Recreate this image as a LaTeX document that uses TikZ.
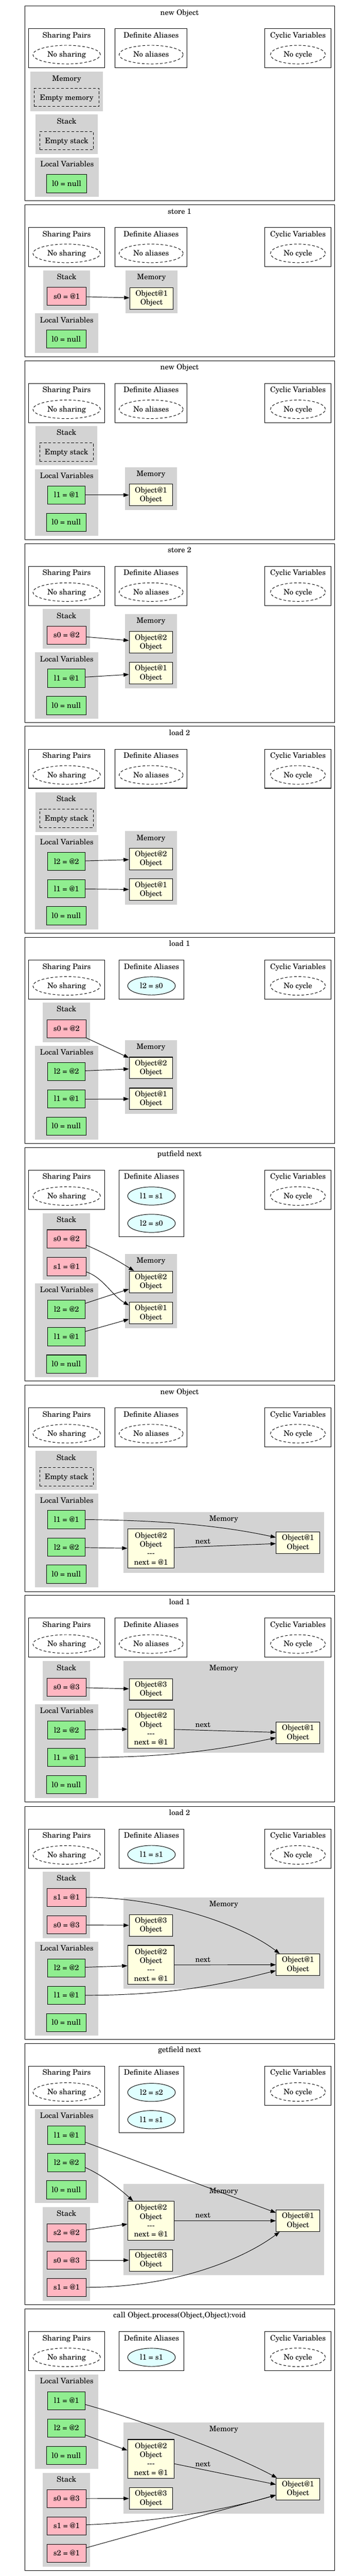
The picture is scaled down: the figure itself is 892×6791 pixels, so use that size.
\documentclass[tikz,border=0pt]{standalone}
\usepackage{fontspec}
\setmainfont{texgyreschola-regular.otf}
\usetikzlibrary{arrows.meta,shapes.geometric,fit,calc}
\definecolor{lgreen}{HTML}{90EE90}
\definecolor{lpink}{HTML}{FFB6C1}
\definecolor{lyellow}{HTML}{FFFFE0}
\definecolor{lcyan}{HTML}{E0FFFF}
\definecolor{lgrey}{HTML}{D3D3D3}
\newcommand\gvfont{\fontsize{19.9pt}{23.5pt}\selectfont}
\tikzset{
 txt/.style={font=\gvfont, inner sep=0pt, text height=13.5pt, text depth=0pt},
 lbl/.style={txt},
 panelbox/.style={draw, line width=1.4pt, inner sep=0pt},
 hbox/.style={draw, line width=1.4pt, inner sep=0pt},
 clus/.style={fill=lgrey, inner sep=0pt},
 noell/.style={txt, ellipse, draw, dash pattern=on 7pt off 5pt, minimum height=49pt, line width=1.3pt},
 alell/.style={txt, ellipse, draw, fill=lcyan, minimum width=126pt, minimum height=48pt, line width=1.3pt},
 lvar/.style={txt, draw, fill=lgreen, minimum height=48pt, minimum width=99pt, line width=1.4pt},
 svar/.style={txt, draw, fill=lpink, minimum height=48pt, minimum width=103pt, line width=1.4pt},
 obj/.style={font=\gvfont, inner sep=0pt, align=center, draw, fill=lyellow, minimum width=115pt, minimum height=57pt, line width=1.4pt},
 fobj/.style={obj, minimum width=123pt, minimum height=103pt},
 emptyb/.style={txt, draw, dash pattern=on 7pt off 5pt, minimum height=48pt, line width=1.3pt},
 edge/.style={-{Triangle[length=14pt,width=10pt]}, line width=1.3pt},
 elabel/.style={txt, above=7pt}
}
\newcommand\mkpanel[4]{%
 \node[panelbox, fit={(66,#2)(884,#3)}] (#1p) {};
 \node[lbl] (#1t) at (474,{#2+17}) {#4};
 \node[hbox, fit={(76,{#2+60})(276,{#2+163})}] (#1sp) {};
 \node[lbl] (#1spl) at (176,{#2+77}) {Sharing Pairs};
 \node[noell, minimum width=178pt] (#1sps) at (176,{#2+128}) {No sharing};
 \node[hbox, fit={(699,{#2+60})(874,{#2+163})}] (#1cv) {};
 \node[lbl] (#1cvl) at (786.5,{#2+77}) {Cyclic Variables};
 \node[noell, minimum width=145pt] (#1cvs) at (786.5,{#2+128}) {No cycle};
}
\newcommand\mknoalias[2]{%
 \node[hbox, fit={(304,{#2+60})(494,{#2+163})}] (#1da) {};
 \node[lbl] (#1dal) at (399,{#2+77}) {Definite Aliases};
 \node[noell, minimum width=169pt] (#1das) at (399,{#2+128}) {No aliases};
}
\newcommand\mkalias[3]{%
 \node[hbox, fit={(315,{#2+60})(485,{#2+#3})}] (#1da) {};
 \node[lbl] (#1dal) at (400,{#2+77}) {Definite Aliases};
}
\newcommand\mkclus[6]{%
 \node[clus, fit={(#2,#3)(#4,#5)}] (#1) {};
 \node[lbl] (#1l) at ({(#2+#4)/2},{#3+17.5}) {#6};
}
\begin{document}
\begin{tikzpicture}[x=1pt,y=-1pt]
\useasboundingbox (0,0) rectangle (892,6791);

% ---------- Panel A: new Object
\mkpanel{A}{16}{529}{new Object}
\mknoalias{A}{16}
\mkclus{Amem}{80}{189}{272}{293}{Memory}
\node[emptyb, minimum width=171pt] (Aem) at (176,257) {Empty memory};
\mkclus{Astk}{94}{302}{258}{406}{Stack}
\node[emptyb, minimum width=141pt] (Aes) at (176,371) {Empty stack};
\mkclus{Aloc}{93}{415}{261}{519}{Local Variables}
\node[lvar, minimum width=105pt] (Al0) at (176,484) {l0 = null};

% ---------- Panel B: store 1
\mkpanel{B}{540}{940}{store 1}
\mknoalias{B}{540}
\mkclus{Bstk}{114}{713}{238}{817}{Stack}
\node[svar] (Bs0) at (176,781) {s0 = @1};
\mkclus{Bmem}{331}{713}{469}{826}{Memory}
\node[obj] (Bo1) at (400,786.5) {Object@1\\Object};
\mkclus{Bloc}{93}{826}{259}{930}{Local Variables}
\node[lvar, minimum width=104pt] (Bl0) at (175,894) {l0 = null};
\draw[edge] (Bs0) -- (Bo1);

% ---------- Panel C: new Object
\mkpanel{C}{951}{1422.5}{new Object}
\mknoalias{C}{951}
\mkclus{Cstk}{94}{1123}{257}{1227}{Stack}
\node[emptyb, minimum width=141pt] (Ces) at (175.5,1192) {Empty stack};
\mkclus{Cloc}{93}{1237}{259}{1412}{Local Variables}
\node[lvar] (Cl1) at (175.5,1305) {l1 = @1};
\node[lvar, minimum width=104pt] (Cl0) at (175,1377) {l0 = null};
\mkclus{Cmem}{330}{1232}{467}{1344}{Memory}
\node[obj] (Co1) at (398.5,1305) {Object@1\\Object};
\draw[edge] (Cl1) -- (Co1);

% ---------- Panel D: store 2
\mkpanel{D}{1433}{1905}{store 2}
\mknoalias{D}{1433}
\mkclus{Dstk}{113}{1606}{238}{1710}{Stack}
\node[svar] (Ds0) at (175.5,1674.5) {s0 = @2};
\mkclus{Dmem}{330}{1619}{467}{1814}{Memory}
\node[obj] (Do2) at (398.5,1693.5) {Object@2\\Object};
\node[obj] (Do1) at (398.5,1774.5) {Object@1\\Object};
\mkclus{Dloc}{93}{1720}{259}{1895}{Local Variables}
\node[lvar] (Dl1) at (175.5,1788) {l1 = @1};
\node[lvar, minimum width=104pt] (Dl0) at (175,1860) {l0 = null};
\draw[edge] (Ds0) -- (Do2);
\draw[edge] (Dl1) -- (Do1);

% ---------- Panel E: load 2
\mkpanel{E}{1915}{2460}{load 2}
\mknoalias{E}{1915}
\mkclus{Estk}{94}{2089}{256}{2193}{Stack}
\node[emptyb, minimum width=141pt] (Ees) at (175.5,2157.5) {Empty stack};
\mkclus{Eloc}{93}{2202}{259}{2450}{Local Variables}
\node[lvar] (El2) at (175.5,2271) {l2 = @2};
\node[lvar] (El1) at (175.5,2343) {l1 = @1};
\node[lvar, minimum width=104pt] (El0) at (175,2414) {l0 = null};
\mkclus{Emem}{330}{2191}{467}{2385}{Memory}
\node[obj] (Eo2) at (398.5,2264.5) {Object@2\\Object};
\node[obj] (Eo1) at (398.5,2345.5) {Object@1\\Object};
\draw[edge] (El2) -- (Eo2);
\draw[edge] (El1) -- (Eo1);

% ---------- Panel F: load 1
\mkpanel{F}{2471}{3015}{load 1}
\mkalias{F}{2471}{163}
\node[alell] (Fa1) at (400,2599) {l2 = s0};
\mkclus{Fstk}{113}{2643}{238}{2747}{Stack}
\node[svar] (Fs0) at (175.5,2712) {s0 = @2};
\mkclus{Fmem}{330}{2742}{467}{2936}{Memory}
\node[obj] (Fo2) at (398.5,2815.5) {Object@2\\Object};
\node[obj] (Fo1) at (398.5,2897) {Object@1\\Object};
\mkclus{Floc}{93}{2757}{259}{3004}{Local Variables}
\node[lvar] (Fl2) at (175.5,2825) {l2 = @2};
\node[lvar] (Fl1) at (175.5,2897) {l1 = @1};
\node[lvar, minimum width=104pt] (Fl0) at (175,2969) {l0 = null};
\draw[edge] (Fs0) -- (Fo2);
\draw[edge] (Fl2) -- (Fo2);
\draw[edge] (Fl1) -- (Fo1);

% ---------- Panel G: putfield next
\mkpanel{G}{3025}{3641}{putfield next}
\mkalias{G}{3025}{235}
\node[alell] (Ga1) at (400,3153) {l1 = s1};
\node[alell] (Ga2) at (400,3225) {l2 = s0};
\mkclus{Gstk}{113}{3198}{238}{3374}{Stack}
\node[svar] (Gs0) at (175.5,3266) {s0 = @2};
\node[svar] (Gs1) at (175.5,3339) {s1 = @1};
\mkclus{Gmem}{330}{3306}{467}{3501}{Memory}
\node[obj] (Go2) at (398.5,3379.5) {Object@2\\Object};
\node[obj] (Go1) at (398.5,3461.5) {Object@1\\Object};
\mkclus{Gloc}{93}{3383}{259}{3631}{Local Variables}
\node[lvar] (Gl2) at (175.5,3452) {l2 = @2};
\node[lvar] (Gl1) at (175.5,3524) {l1 = @1};
\node[lvar, minimum width=104pt] (Gl0) at (175,3596) {l0 = null};
\draw[edge] ([yshift=-16.6pt]Gs0.east) .. controls +(50,21) and +(-40,-25) .. ([xshift=13.6pt]Go2.north west);
\draw[edge] ([yshift=-14pt]Gs1.east) .. controls +(45,15) and +(-45,-26) .. ([yshift=20.5pt]Go1.west);
\draw[edge] (Gl2) -- (Go2);
\draw[edge] (Gl1) -- (Go1);

% ---------- Panel H: new Object
\mkpanel{H}{3651.5}{4196}{new Object}
\mknoalias{H}{3651.5}
\mkclus{Hstk}{94}{3825}{256}{3928}{Stack}
\node[emptyb, minimum width=141pt] (Hes) at (175.5,3893) {Empty stack};
\mkclus{Hloc}{93}{3938}{259}{4185}{Local Variables}
\node[lvar] (Hl1) at (175.5,4006) {l1 = @1};
\node[lvar] (Hl2) at (175.5,4079) {l2 = @2};
\node[lvar, minimum width=104pt] (Hl0) at (175,4150) {l0 = null};
\mkclus{Hmem}{326.5}{3986}{855}{4146}{Memory}
\node[fobj] (Ho2) at (398.5,4082.5) {Object@2\\Object\\-{}-{}-\\next = @1};
\node[obj] (Ho1) at (786.5,4067) {Object@1\\Object};
\draw[edge] (Hl1.east) .. controls +(225,2) and +(-130,-28) .. ([yshift=14pt]Ho1.west);
\draw[edge] (Hl2) -- (Ho2);
\draw[edge] (Ho2) -- node[elabel, pos=0.28] {next} (Ho1);

% ---------- Panel I: load 1
\mkpanel{I}{4206}{4750.5}{load 1}
\mknoalias{I}{4206}
\mkclus{Istk}{113}{4379}{238}{4483}{Stack}
\node[svar] (Is0) at (175.5,4448) {s0 = @3};
\mkclus{Imem}{326.5}{4379}{855}{4621}{Memory}
\node[obj] (Io3) at (398.5,4453.5) {Object@3\\Object};
\node[fobj] (Io2) at (398.5,4557.5) {Object@2\\Object\\-{}-{}-\\next = @1};
\node[obj] (Io1) at (786.5,4568.5) {Object@1\\Object};
\mkclus{Iloc}{93}{4493}{259}{4740}{Local Variables}
\node[lvar] (Il2) at (175.5,4561) {l2 = @2};
\node[lvar] (Il1) at (175.5,4633) {l1 = @1};
\node[lvar, minimum width=104pt] (Il0) at (175,4705) {l0 = null};
\draw[edge] (Is0) -- (Io3);
\draw[edge] (Il2) -- (Io2);
\draw[edge] (Io2) -- node[elabel, pos=0.28] {next} (Io1);
\draw[edge] (Il1.east) .. controls +(250,0) and +(-120,25) .. ([yshift=-12.5pt]Io1.west);

% ---------- Panel J: load 2
\mkpanel{J}{4762}{5376.6}{load 2}
\mkalias{J}{4762}{163}
\node[alell] (Ja1) at (400,4889) {l1 = s1};
\mkclus{Jstk}{113}{4934}{238}{5110}{Stack}
\node[svar] (Js1) at (175.5,5002) {s1 = @1};
\node[svar] (Js0) at (175.5,5074.5) {s0 = @3};
\mkclus{Jmem}{326.5}{5002}{855}{5243}{Memory}
\node[obj] (Jo3) at (398.5,5076) {Object@3\\Object};
\node[fobj] (Jo2) at (398.5,5180) {Object@2\\Object\\-{}-{}-\\next = @1};
\node[obj] (Jo1) at (786.5,5179.5) {Object@1\\Object};
\mkclus{Jloc}{93}{5119}{259}{5366}{Local Variables}
\node[lvar] (Jl2) at (175.5,5188) {l2 = @2};
\node[lvar] (Jl1) at (175.5,5260) {l1 = @1};
\node[lvar, minimum width=104pt] (Jl0) at (175,5332) {l0 = null};
\draw[edge] (Js1.east) .. controls +(203,0) and +(-99,-76) .. ([xshift=10pt]Jo1.north west);
\draw[edge] (Js0) -- (Jo3);
\draw[edge] (Jl2) -- (Jo2);
\draw[edge] (Jo2) -- node[elabel, pos=0.28] {next} (Jo1);
\draw[edge] (Jl1.east) .. controls +(250,0) and +(-120,30) .. ([yshift=-15.5pt]Jo1.west);

% ---------- Panel K: getfield next
\mkpanel{K}{5387}{6076}{getfield next}
\mkalias{K}{5387}{235}
\node[alell] (Ka1) at (400,5516) {l2 = s2};
\node[alell] (Ka2) at (400,5588) {l1 = s1};
\mkclus{Kloc}{93}{5560}{259}{5808}{Local Variables}
\node[lvar] (Kl1) at (175.5,5629) {l1 = @1};
\node[lvar] (Kl2) at (175.5,5701) {l2 = @2};
\node[lvar, minimum width=104pt] (Kl0) at (175,5773) {l0 = null};
\mkclus{Kstk}{113}{5818}{238}{6065}{Stack}
\node[svar] (Ks2) at (175.5,5886) {s2 = @2};
\node[svar] (Ks0) at (175.5,5958.5) {s0 = @3};
\node[svar] (Ks1) at (175.5,6030) {s1 = @1};
\mkclus{Kmem}{326.5}{5758}{855}{5998}{Memory}
\node[fobj] (Ko2) at (398.5,5854.5) {Object@2\\Object\\-{}-{}-\\next = @1};
\node[obj] (Ko1) at (786.5,5854.5) {Object@1\\Object};
\node[obj] (Ko3) at (398.5,5958.5) {Object@3\\Object};
\draw[edge] (Kl1) -- (Ko1);
\draw[edge] ([yshift=-13.4pt]Kl2.east) .. controls +(45,20) and +(-35,-32) .. ([xshift=15pt]Ko2.north west);
\draw[edge] (Ko2) -- node[elabel, pos=0.28] {next} (Ko1);
\draw[edge] (Ks2) -- (Ko2);
\draw[edge] (Ks0) -- (Ko3);
\draw[edge] (Ks1.east) .. controls +(243,0) and +(-89,67) .. ([xshift=10pt]Ko1.south west);

% ---------- Panel L: call
\mkpanel{L}{6086.5}{6776}{call Object.process(Object,Object):void}
\mkalias{L}{6086.5}{163}
\node[alell] (La1) at (400,6214.5) {l1 = s1};
\mkclus{Lloc}{93}{6260}{259}{6508}{Local Variables}
\node[lvar] (Ll1) at (175.5,6329) {l1 = @1};
\node[lvar] (Ll2) at (175.5,6401) {l2 = @2};
\node[lvar, minimum width=104pt] (Ll0) at (175,6473.5) {l0 = null};
\mkclus{Lstk}{113}{6519}{238}{6767}{Stack}
\node[svar] (Ls0) at (175.5,6587) {s0 = @3};
\node[svar] (Ls1) at (175.5,6659) {s1 = @1};
\node[svar] (Ls2) at (175.5,6731) {s2 = @1};
\mkclus{Lmem}{326.5}{6386}{855}{6626}{Memory}
\node[fobj] (Lo2) at (398.5,6482.5) {Object@2\\Object\\-{}-{}-\\next = @1};
\node[obj] (Lo3) at (398.5,6586.5) {Object@3\\Object};
\node[obj] (Lo1) at (786.5,6561.5) {Object@1\\Object};
\draw[edge] ([yshift=-10pt]Ll1.east) .. controls +(130,36) and +(-130,-70) .. ([xshift=3pt]Lo1.north west);
\draw[edge] (Ll2) -- (Lo2);
\draw[edge] (Lo2) -- node[elabel, pos=0.28] {next} (Lo1);
\draw[edge] (Ls0) -- (Lo3);
\draw[edge] ([yshift=3pt]Ls1.east) .. controls +(203,-8) and +(-109,32.5) .. ([yshift=-16pt]Lo1.west);
\draw[edge] (Ls2) -- (Lo1);
\end{tikzpicture}
\end{document}
